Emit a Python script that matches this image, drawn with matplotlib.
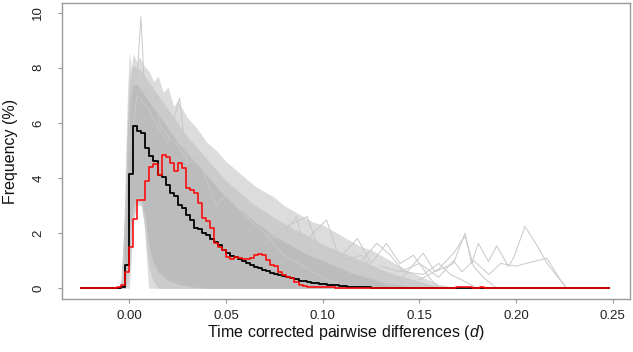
import numpy as np
import matplotlib
matplotlib.use("Agg")
import matplotlib.pyplot as plt

plt.rcParams['font.family'] = ['Liberation Sans', 'DejaVu Sans']
plt.rcParams['mathtext.fontset'] = 'custom'
plt.rcParams['mathtext.it'] = 'Liberation Sans:italic'
plt.rcParams['mathtext.rm'] = 'Liberation Sans'

# ---------------- data ----------------
bin_start = -0.025
bin_width = 0.25 / 120
n_bins = 132

# mean of simulations (black step line), one value per bin starting at -0.025
mean_freq = ([0.0] * 10 +
             [0.05, 0.85, 4.15, 5.9, 5.7, 5.65, 5.1, 4.8, 4.6, 4.1, 4.05, 3.75,
              3.45, 3.33, 3.03, 2.9, 2.67, 2.48, 2.2, 2.15, 2.0, 1.94, 1.78, 1.68,
              1.57, 1.4, 1.27, 1.17, 1.12, 1.05, 1.0, 0.92, 0.85, 0.78, 0.72, 0.67,
              0.62, 0.57, 0.52, 0.48, 0.45, 0.4, 0.36, 0.32, 0.28, 0.25, 0.22, 0.2,
              0.18, 0.16, 0.14, 0.12, 0.11, 0.1, 0.08, 0.07, 0.06, 0.05, 0.04, 0.04,
              0.03, 0.03, 0.02] +
             [0.01] * 11 + [0.0] * 48)

# observed (red step line)
obs_freq = ([0.0] * 9 +
            [0.05, 0.12, 0.6, 1.5, 2.5, 3.2, 3.2, 3.9, 4.4, 4.5, 4.1, 4.85, 4.75,
             4.55, 4.25, 4.55, 4.35, 3.65, 3.55, 3.45, 3.1, 2.55, 2.45, 2.2, 1.65,
             1.5, 1.4, 1.15, 1.05, 1.12, 1.1, 1.05, 1.05, 1.1, 1.2, 1.25, 1.2, 1.03,
             0.85, 0.8, 0.6, 0.48, 0.42, 0.36, 0.24, 0.12, 0.08, 0.06] +
            [0.04] * 6 + [0.02] * 20 + [0.0] * 10 + [0.04] * 4 + [0.0] * 2 +
            [0.04] + [0.0] * 32)

# envelopes of the simulated curves: outer (all curves), mid, core (dense part)
outer_x = [-0.006, -0.004, -0.003, -0.002, -0.001, 0.0, 0.001, 0.002, 0.004, 0.005,
           0.006, 0.0075, 0.0085, 0.010, 0.012, 0.0125, 0.015, 0.0175, 0.02, 0.023,
           0.025, 0.03, 0.035, 0.04, 0.045, 0.05, 0.055, 0.06, 0.065, 0.07, 0.075,
           0.08, 0.085, 0.09, 0.095, 0.1, 0.105, 0.11, 0.115, 0.12, 0.125, 0.13,
           0.135, 0.14, 0.145, 0.15, 0.155, 0.16, 0.17]
outer_hi = [0.0, 0.3, 1.5, 4.5, 7.0, 8.6, 8.0, 8.5, 8.2, 8.4,
            8.3, 8.1, 8.0, 7.9, 7.6, 7.5, 7.7, 7.1, 7.3, 6.6,
            6.8, 6.2, 5.8, 5.3, 5.0, 4.6, 4.3, 4.0, 3.7, 3.5, 3.3,
            3.0, 2.8, 2.6, 2.4, 2.3, 2.1, 1.9, 1.7, 1.5, 1.4, 1.2,
            1.0, 0.8, 0.6, 0.45, 0.3, 0.15, 0.0]
outer_lo = [0.0, 0.0, 0.0, 0.0, 0.0, 0.0, 1.0, 2.4, 3.0, 3.0,
            3.0, 2.6, 1.5, 0.0, 0.0, 0.0, 0.0, 0.0, 0.0, 0.0,
            0.0, 0.0, 0.0, 0.0, 0.0, 0.0, 0.0, 0.0, 0.0, 0.0, 0.0,
            0.0, 0.0, 0.0, 0.0, 0.0, 0.0, 0.0, 0.0, 0.0, 0.0, 0.0,
            0.0, 0.0, 0.0, 0.0, 0.0, 0.0, 0.0]

mid_x = [-0.004, -0.002, -0.001, 0.0, 0.002, 0.004, 0.006, 0.008, 0.01, 0.012,
         0.015, 0.02, 0.025, 0.03, 0.035, 0.04, 0.045, 0.05, 0.055, 0.06,
         0.065, 0.07, 0.075, 0.08, 0.085, 0.09, 0.095, 0.1, 0.105, 0.11,
         0.115, 0.12, 0.125, 0.13, 0.135, 0.14, 0.145, 0.15, 0.155, 0.16, 0.165]
mid_hi = [0.2, 3.5, 6.0, 7.6, 8.1, 8.0, 7.9, 7.7, 7.5, 7.3,
          7.0, 6.5, 6.0, 5.5, 5.1, 4.7, 4.3, 3.9, 3.6, 3.3,
          3.0, 2.8, 2.55, 2.35, 2.15, 2.0, 1.8, 1.6, 1.45, 1.3,
          1.15, 1.0, 0.85, 0.7, 0.55, 0.45, 0.35, 0.25, 0.15, 0.05, 0.0]
mid_lo = [0.0, 0.0, 0.2, 0.6, 2.6, 3.1, 3.1, 2.2, 0.8, 0.3,
          0.0, 0.0, 0.0, 0.0, 0.0, 0.0, 0.0, 0.0, 0.0, 0.0,
          0.0, 0.0, 0.0, 0.0, 0.0, 0.0, 0.0, 0.0, 0.0, 0.0,
          0.0, 0.0, 0.0, 0.0, 0.0, 0.0, 0.0, 0.0, 0.0, 0.0, 0.0]

core_x = [-0.003, -0.002, -0.001, 0.0, 0.002, 0.004, 0.006, 0.008, 0.01, 0.012,
          0.015, 0.02, 0.025, 0.03, 0.035, 0.04, 0.045, 0.05, 0.055, 0.06,
          0.065, 0.07, 0.075, 0.08, 0.085, 0.09, 0.095, 0.1, 0.105, 0.11,
          0.115, 0.12, 0.13, 0.14, 0.15]
core_hi = [0.5, 3.0, 5.5, 6.8, 7.4, 7.4, 7.2, 7.0, 6.8, 6.6,
           6.3, 5.8, 5.3, 4.9, 4.5, 4.1, 3.7, 3.3, 3.0, 2.7,
           2.4, 2.15, 1.9, 1.7, 1.5, 1.3, 1.15, 1.0, 0.85, 0.7,
           0.55, 0.45, 0.25, 0.1, 0.0]
core_lo = [0.0, 0.2, 0.8, 2.0, 3.0, 3.3, 3.3, 2.7, 1.6, 1.0,
           0.6, 0.3, 0.15, 0.08, 0.03, 0.0, 0.0, 0.0, 0.0, 0.0,
           0.0, 0.0, 0.0, 0.0, 0.0, 0.0, 0.0, 0.0, 0.0, 0.0,
           0.0, 0.0, 0.0, 0.0, 0.0]

# a few individual simulated curves that stand out of the band
sim_spike_x = [-0.004, -0.002, 0.0, 0.002, 0.004, 0.006, 0.008, 0.010, 0.012, 0.014,
               0.016, 0.02, 0.025, 0.03]
sim_spike_y = [0.0, 2.5, 6.0, 8.0, 7.6, 9.85, 7.0, 7.3, 6.6, 7.0,
               5.9, 5.5, 5.2, 4.6]
sim_a_x = [0.0, 0.004, 0.01, 0.015, 0.02, 0.026, 0.03, 0.035, 0.04, 0.045, 0.05,
           0.06, 0.07, 0.08, 0.09, 0.1, 0.11]
sim_a_y = [5.0, 7.0, 6.5, 5.8, 5.3, 6.9, 4.5, 4.8, 3.9, 3.0, 3.4,
           2.6, 2.0, 1.2, 0.8, 0.4, 0.1]
sim_b_x = [0.07, 0.078, 0.0865, 0.09, 0.095, 0.102, 0.108, 0.115, 0.12, 0.13, 0.14]
sim_b_y = [2.0, 1.8, 2.6, 1.5, 2.0, 2.48, 1.2, 1.0, 0.6, 0.2, 0.0]
sim_c_x = [0.07, 0.08, 0.092, 0.096, 0.1, 0.11, 0.12, 0.128, 0.135]
sim_c_y = [1.6, 2.2, 2.6, 1.8, 1.3, 1.0, 1.2, 0.5, 0.0]
sim_d_x = [0.11, 0.118, 0.125, 0.133, 0.14, 0.147, 0.155, 0.16]
sim_d_y = [1.2, 1.8, 0.9, 1.63, 0.9, 1.2, 0.4, 0.0]
sim_e_x = [0.12, 0.128, 0.135, 0.142, 0.152, 0.16, 0.166, 0.172, 0.18]
sim_e_y = [1.0, 1.63, 1.2, 0.6, 0.5, 0.9, 0.5, 0.3, 0.0]
sim_f_x = [0.13, 0.14, 0.152, 0.158, 0.1676, 0.1736, 0.177, 0.1805, 0.1857, 0.19,
           0.196, 0.1986, 0.2046, 0.2107, 0.216, 0.2262]
sim_f_y = [0.6, 0.3, 1.27, 0.6, 0.9, 2.0, 0.9, 1.63, 0.97, 1.54,
           0.79, 1.09, 2.24, 1.57, 0.9, 0.0]
sim_g_x = [0.13, 0.14, 0.15, 0.16, 0.1676, 0.172, 0.178, 0.186, 0.192, 0.2, 0.205,
           0.2159, 0.222, 0.226]
sim_g_y = [0.8, 0.6, 0.9, 0.4, 1.0, 0.6, 1.0, 0.5, 0.9, 0.8, 0.9,
           1.09, 0.4, 0.0]
sim_h_x = [0.15, 0.16, 0.168, 0.1736, 0.178, 0.183, 0.19]
sim_h_y = [0.3, 0.7, 1.3, 1.9, 0.8, 0.4, 0.0]

# ---------------- plot ----------------
fig = plt.figure(figsize=(6.33, 3.52), dpi=100)
ax = fig.add_axes([62 / 633, 1 - 299 / 352, 568 / 633, 296 / 352])

x_bins = bin_start + bin_width * np.arange(n_bins)

ax.fill_between(outer_x, outer_lo, outer_hi, color='#dcdcdc', lw=0, zorder=1)
ax.fill_between(mid_x, mid_lo, mid_hi, color='#cbcbcb', lw=0, zorder=1.5)
ax.fill_between(core_x, core_lo, core_hi, color='#bcbcbc', lw=0, zorder=2)

gray_line = dict(color='#c8c8c8', lw=0.7, zorder=3)
for sx, sy in [(sim_spike_x, sim_spike_y), (sim_a_x, sim_a_y), (sim_b_x, sim_b_y),
               (sim_c_x, sim_c_y), (sim_d_x, sim_d_y), (sim_e_x, sim_e_y),
               (sim_f_x, sim_f_y), (sim_g_x, sim_g_y), (sim_h_x, sim_h_y)]:
    ax.plot(sx, sy, **gray_line)

ax.plot(x_bins, mean_freq, drawstyle='steps-post', color='black', lw=1.3, zorder=4)
ax.plot(x_bins, obs_freq, drawstyle='steps-post', color='#ff0000', lw=1.1, zorder=5)

ax.set_xlim(-0.0348, 0.2589)
ax.set_ylim(-0.39, 10.35)
ax.set_xticks([0.0, 0.05, 0.10, 0.15, 0.20, 0.25])
ax.set_xticklabels(['0.00', '0.05', '0.10', '0.15', '0.20', '0.25'])
ax.set_yticks([0, 2, 4, 6, 8, 10])
ax.set_yticklabels(['0', '2', '4', '6', '8', '10'], rotation=90, va='center',
                   ha='center')

for sp in ax.spines.values():
    sp.set_color('#999999')
    sp.set_linewidth(1.0)
ax.tick_params(axis='both', colors='#999999', labelcolor='#222222', length=3,
               width=0.8, labelsize=9.5)
ax.tick_params(axis='x', pad=5)
ax.tick_params(axis='y', pad=14)

fig.text(346 / 633, 1 - 333 / 352, 'Time corrected pairwise differences ($\\it{d}$)',
         ha='center', va='center', fontsize=11.5, color='#111111')
fig.text(11 / 633, 1 - 151 / 352, 'Frequency (%)', rotation=90,
         ha='center', va='center', fontsize=11.5, color='#111111')

fig.savefig('out.png', dpi=100)
